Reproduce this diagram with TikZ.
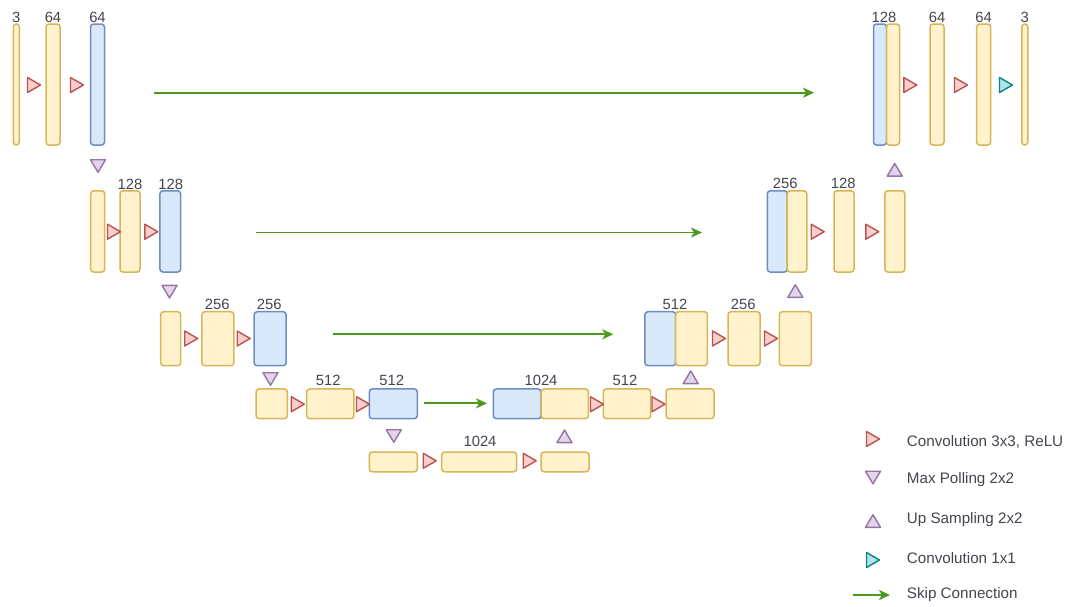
\documentclass[tikz,border=0pt]{standalone}
\usepackage{fontspec}
\setmainfont{Liberation Sans}
\usetikzlibrary{arrows.meta}

\definecolor{ylfill}{HTML}{FFF2CC}
\definecolor{yldraw}{HTML}{D6B656}
\definecolor{blfill}{HTML}{DAE8FC}
\definecolor{bldraw}{HTML}{6C8EBF}
\definecolor{rdfill}{HTML}{F8CECC}
\definecolor{rddraw}{HTML}{B85450}
\definecolor{pufill}{HTML}{E1D5E7}
\definecolor{pudraw}{HTML}{9673A6}
\definecolor{tlfill}{HTML}{B0E3E6}
\definecolor{tldraw}{HTML}{0E8088}
\definecolor{skipgreen}{HTML}{4A9A1C}
\definecolor{txt}{HTML}{44444E}

\begin{document}
\begin{tikzpicture}[x=1pt,y=-1pt,
  fmap/.style={rectangle, rounded corners=3pt, line width=1.5pt, inner sep=0pt},
  ybox/.style={fmap, fill=ylfill, draw=yldraw},
  bbox/.style={fmap, fill=blfill, draw=bldraw},
  lbl/.style={text=txt, inner sep=0pt, font=\fontsize{14.8}{16}\selectfont},
  legtxt/.style={text=txt, inner sep=0pt, anchor=west, font=\fontsize{15.2}{17}\selectfont},
  skip/.style={draw=skipgreen, line width=1.9pt,
    -{Stealth[length=11pt, width=10pt, inset=3pt]}},
  trisym/.style={line width=1.4pt, line join=round},
  convtri/.pic={\draw[trisym, fill=rdfill, draw=rddraw]
     (-6.5,-7.5) -- (6.5,0) -- (-6.5,7.5) -- cycle;},
  onetri/.pic={\draw[trisym, fill=tlfill, draw=tldraw]
     (-6.5,-7.5) -- (6.5,0) -- (-6.5,7.5) -- cycle;},
  pooltri/.pic={\draw[trisym, fill=pufill, draw=pudraw]
     (-7.5,-6.3) -- (7.5,-6.3) -- (0,6.3) -- cycle;},
  uptri/.pic={\draw[trisym, fill=pufill, draw=pudraw]
     (-7.5,6.3) -- (7.5,6.3) -- (0,-6.3) -- cycle;},
]
\useasboundingbox (0,0) rectangle (1066,606);

% ---------------- encoder, level 1 ----------------
\node[ybox, minimum width=6,  minimum height=121] (in3)  at (16.3,84.5) {};
\node[ybox, minimum width=14, minimum height=121] (e1a)  at (53,84.5) {};
\node[bbox, minimum width=14, minimum height=121] (e1b)  at (97.5,84.5) {};
\node[lbl] (t-in3) at (16.3,17.5) {3};
\node[lbl] (t-e1a) at (53,17.5) {64};
\node[lbl] (t-e1b) at (97.5,17.5) {64};
\pic (c11) at (34,85) {convtri};
\pic (c12) at (77,85) {convtri};
\pic (p1)  at (98,166) {pooltri};

% ---------------- encoder, level 2 ----------------
\node[ybox, minimum width=14, minimum height=81.3] (e2in) at (97.7,231.4) {};
\node[ybox, minimum width=20, minimum height=81.3] (e2a)  at (130,231.4) {};
\node[bbox, minimum width=20.7, minimum height=81.3] (e2b) at (170.3,231.4) {};
\node[lbl] (t-e2a) at (130,184) {128};
\node[lbl] (t-e2b) at (170.7,184) {128};
\pic (c21) at (114,231.7) {convtri};
\pic (c22) at (151.3,231.7) {convtri};
\pic (p2)  at (169.5,291.7) {pooltri};

% ---------------- encoder, level 3 ----------------
\node[ybox, minimum width=20, minimum height=54] (e3in) at (170.7,338.7) {};
\node[ybox, minimum width=32, minimum height=54] (e3a)  at (217.8,338.7) {};
\node[bbox, minimum width=32, minimum height=54] (e3b)  at (270.2,338.7) {};
\node[lbl] (t-e3a) at (217.3,304) {256};
\node[lbl] (t-e3b) at (269.3,304) {256};
\pic (c31) at (191.2,338.5) {convtri};
\pic (c32) at (243.7,338.5) {convtri};
\pic (p3)  at (270.5,379) {pooltri};

% ---------------- encoder, level 4 ----------------
\node[ybox, minimum width=31.3, minimum height=29.7] (e4in) at (271.7,403.8) {};
\node[ybox, minimum width=47.3, minimum height=29.7] (e4a)  at (330.3,403.8) {};
\node[bbox, minimum width=48, minimum height=29.7]   (e4b)  at (393.3,403.8) {};
\node[lbl] (t-e4a) at (328.3,380.7) {512};
\node[lbl] (t-e4b) at (391.7,380.7) {512};
\pic (c41) at (297.8,404.2) {convtri};
\pic (c42) at (363,404.2) {convtri};
\pic (p4)  at (393.8,436) {pooltri};

% ---------------- bottleneck ----------------
\node[ybox, minimum width=48, minimum height=19.7] (b5in) at (393.3,461.9) {};
\node[ybox, minimum width=75, minimum height=19.7] (b5a)  at (479.2,461.9) {};
\node[ybox, minimum width=48, minimum height=19.7] (b5b)  at (565,461.9) {};
\node[lbl] (t-b5a) at (480,441.7) {1024};
\pic (c51) at (429.7,460.8) {convtri};
\pic (c52) at (529.7,460.8) {convtri};
\pic (u5)  at (564.5,436.3) {uptri};

% ---------------- decoder, level 4 ----------------
\node[bbox, minimum width=47.7, minimum height=29.7] (d4cat) at (517.2,403.8) {};
\node[ybox, minimum width=47.3, minimum height=29.7] (d4up)  at (564.7,403.8) {};
\node[ybox, minimum width=47.4, minimum height=29.7] (d4a)   at (627,403.8) {};
\node[ybox, minimum width=48, minimum height=29.7]   (d4b)   at (690,403.8) {};
\node[lbl] (t-d4) at (541,380.7) {1024};
\node[lbl] (t-d4a) at (625,380.7) {512};
\pic (c61) at (597,404.2) {convtri};
\pic (c62) at (658.5,404.2) {convtri};
\pic (u4)  at (690.7,377.3) {uptri};

% ---------------- decoder, level 3 ----------------
\node[bbox, minimum width=30.7, minimum height=54] (d3cat) at (660.3,338.7) {};
\node[ybox, minimum width=31.6, minimum height=54] (d3up)  at (691.5,338.7) {};
\node[ybox, minimum width=32, minimum height=54]   (d3a)   at (744,338.7) {};
\node[ybox, minimum width=32, minimum height=54]   (d3b)   at (795.3,338.7) {};
\node[lbl] (t-d3) at (675,304) {512};
\node[lbl] (t-d3a) at (743.3,304) {256};
\pic (c71) at (719,338.5) {convtri};
\pic (c72) at (771,338.5) {convtri};
\pic (u3)  at (795.3,291) {uptri};

% ---------------- decoder, level 2 ----------------
\node[bbox, minimum width=20, minimum height=81.3] (d2cat) at (777.3,231.4) {};
\node[ybox, minimum width=19.6, minimum height=81.3] (d2up) at (797,231.4) {};
\node[ybox, minimum width=20, minimum height=81.3] (d2a)   at (844,231.4) {};
\node[ybox, minimum width=20, minimum height=81.3] (d2b)   at (894.8,231.4) {};
\node[lbl] (t-d2) at (785.3,183.3) {256};
\node[lbl] (t-d2a) at (843.3,183.3) {128};
\pic (c81) at (817.7,231.7) {convtri};
\pic (c82) at (872.3,231.7) {convtri};
\pic (u2)  at (894.7,169.8) {uptri};

% ---------------- decoder, level 1 ----------------
\node[bbox, minimum width=13, minimum height=121] (d1cat) at (880,84.5) {};
\node[ybox, minimum width=13, minimum height=121] (d1up)  at (893,84.5) {};
\node[ybox, minimum width=14, minimum height=121] (d1a)   at (937,84.5) {};
\node[ybox, minimum width=14, minimum height=121] (d1b)   at (983.7,84.5) {};
\node[ybox, minimum width=6,  minimum height=121] (out3)  at (1024.8,84.5) {};
\node[lbl] (t-d1) at (884,17.5) {128};
\node[lbl] (t-d1a) at (937,17.5) {64};
\node[lbl] (t-d1b) at (983.7,17.5) {64};
\node[lbl] (t-out) at (1024.8,17.5) {3};
\pic (c91) at (910.3,85) {convtri};
\pic (c92) at (961,85) {convtri};
\pic (o1)  at (1006,85) {onetri};

% ---------------- skip connections ----------------
\coordinate (s1a) at (154,92.7);   \coordinate (s1b) at (814,92.7);
\coordinate (s2a) at (255.7,232.5); \coordinate (s2b) at (702,232.5);
\coordinate (s3a) at (332.7,334.3); \coordinate (s3b) at (613.3,334.3);
\coordinate (s4a) at (424,403.3);  \coordinate (s4b) at (487,403.3);
\draw[skip] (s1a) -- (s1b);
\draw[skip] (s2a) -- (s2b);
\draw[skip] (s3a) -- (s3b);
\draw[skip] (s4a) -- (s4b);

% ---------------- legend ----------------
\pic (lg1) at (873,439) {convtri};
\pic (lg2) at (873,477.5) {pooltri};
\pic (lg3) at (873,521) {uptri};
\pic (lg4) at (873,560) {onetri};
\coordinate (lgsa) at (853.3,595); \coordinate (lgsb) at (890,595);
\draw[skip] (lgsa) -- (lgsb);
\node[legtxt] (lt1) at (906.7,441.7) {Convolution 3x3, ReLU};
\node[legtxt] (lt2) at (906.7,480) {Max Polling 2x2};
\node[legtxt] (lt3) at (906.7,520) {Up Sampling 2x2};
\node[legtxt] (lt4) at (906.7,558.3) {Convolution 1x1};
\node[legtxt] (lt5) at (906.7,595) {Skip Connection};
\end{tikzpicture}
\end{document}
